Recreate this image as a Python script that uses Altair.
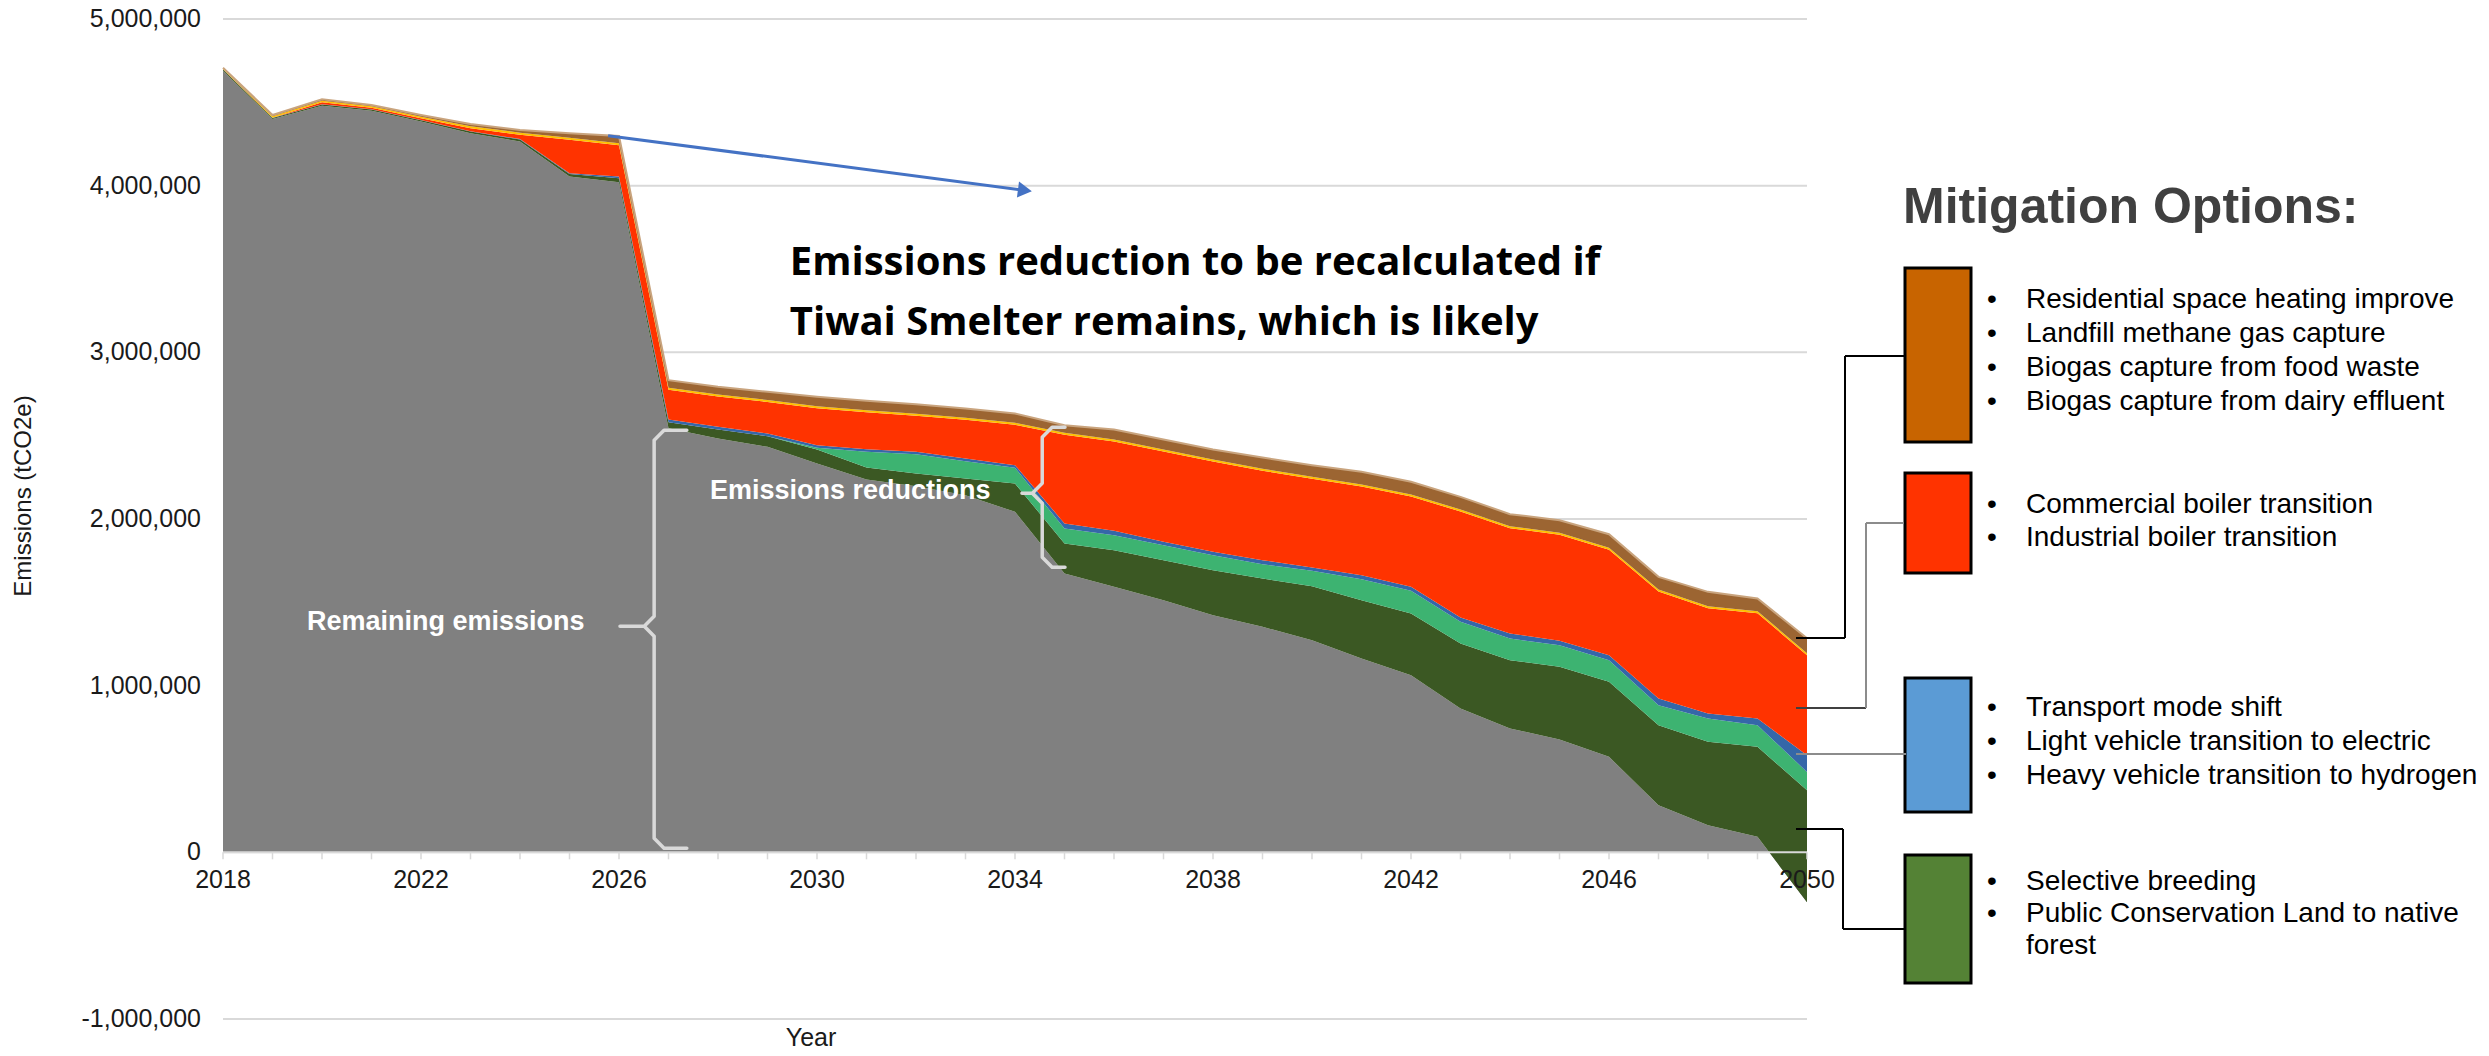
import altair as alt
import numpy as np
import pandas as pd

# ---------------------------------------------------------------- data
years = list(range(2018, 2051))
year_labels = list(range(2018, 2051, 4))
value_ticks = list(range(-1_000_000, 5_000_001, 1_000_000))

remaining = [4690000, 4400000, 4480000, 4450000, 4385000, 4315000, 4265000, 4055000, 4020000,
             2545000, 2483000, 2433000, 2333000, 2237000, 2197000, 2143000, 2043000, 1673000,
             1593000, 1513000, 1423000, 1353000, 1273000, 1163000, 1063000, 863000, 743000,
             677000, 573000, 283000, 163000, 93000, -300000]
land_breeding = [7000, 6000, 7000, 7000, 7000, 10000, 12000, 15000, 25000,
                 35000, 54000, 64000, 84000, 72000, 76000, 100000, 170000, 180000,
                 220000, 240000, 270000, 290000, 324000, 350000, 370000, 390000, 410000,
                 436000, 450000, 480000, 500000, 540000, 672000]
land_other = [0] * 12 + [10000, 94000, 116000, 104000, 94000, 90000, 90000, 90000, 90000,
                         86000, 92000, 126000, 136000, 130000, 130000, 130000, 130000,
                         120000, 140000, 130000, 110000]
transport = [1000, 1000, 1000, 1000, 2000, 2000, 3000, 5000, 10000,
             17000, 16000, 16000, 16000, 16000, 14000, 16000, 16000, 30000,
             26000, 20000, 20000, 24000, 20000, 24000, 24000, 26000, 30000,
             26000, 30000, 40000, 30000, 40000, 100000]
boilers = [0, 1000, 12000, 10000, 10000, 18000, 25000, 200000, 187000,
           178000, 182000, 189000, 222000, 221000, 217000, 232000, 242000, 532000,
           536000, 542000, 542000, 537000, 533000, 532000, 542000, 636000, 632000,
           636000, 632000, 642000, 632000, 632000, 600000]
other_energy = [5000, 8000, 10000, 8000, 10000, 12000, 13000] + [12000] * 26
waste_heating = [5000, 8000, 8000, 8000, 10000, 13000, 16000, 27000, 44000,
                 46000, 46000, 49000, 56000, 57000, 57000, 56000, 56000, 46000,
                 60000, 60000, 60000, 67000, 69000, 76000, 76000, 76000, 72000,
                 76000, 82000, 76000, 86000, 76000, 90000]

series_names = ["Remaining", "Breeding & forest", "Land use", "Transport",
                "Boilers", "Other", "Waste & heating"]
series_values = [remaining, land_breeding, land_other, transport,
                 boilers, other_energy, waste_heating]
series_colors = ["#808080", "#3B5823", "#3DB371", "#3567A8",
                 "#FF3300", "#FFC000", "#9C6532"]

legend_colors = ["#C86400", "#FF3300", "#5B9BD5", "#548235"]
legend_items = [
    ["Residential space heating improve", "Landfill methane gas capture",
     "Biogas capture from food waste", "Biogas capture from dairy effluent"],
    ["Commercial boiler transition", "Industrial boiler transition"],
    ["Transport mode shift", "Light vehicle transition to electric",
     "Heavy vehicle transition to hydrogen"],
    ["Selective breeding", "Public Conservation Land to native", "forest"],
]

# ------------------------------------------------- cumulative (Excel-style) stack
rows = []
base = np.zeros(len(years))
for name, vals in zip(series_names, series_values):
    top = base + np.array(vals, dtype=float)
    for yr, lo, hi in zip(years, base, top):
        rows.append({"year": yr, "series": name, "bottom": lo, "top": hi})
    base = top
stack_df = pd.DataFrame(rows)

# --------------------------------------------------------------- scales
W, H = 1584, 1000
X0, X1 = 2018, 2050
Y0, Y1 = -1_000_000, 5_000_000
FONT = "Liberation Sans, Arial, sans-serif"
INK = "#1a1a1a"
GRID = "#D9D9D9"
xs = alt.Scale(domain=[X0, X1], nice=False, zero=False)
ys = alt.Scale(domain=[Y0, Y1], nice=False, zero=False)


def px_year(px):
    """Horizontal pixel offset from the plot's left edge -> year units."""
    return X0 + px * (X1 - X0) / W


def py_value(py):
    """Vertical pixel offset from the plot's top edge -> tonnes."""
    return Y1 - py * (Y1 - Y0) / H


X = alt.X("year:Q", scale=xs, axis=None)


def Y(field):
    return alt.Y(field, scale=ys, axis=None)


layers = []

# horizontal gridlines (behind the areas)
grid_df = pd.DataFrame({"year": [X0] * len(value_ticks), "year2": [X1] * len(value_ticks),
                        "value": value_ticks})
layers.append(
    alt.Chart(grid_df).mark_rule(color=GRID, strokeWidth=2)
    .encode(x=X, x2="year2:Q", y=Y("value:Q"))
)

# stacked areas
for name, color in zip(series_names, series_colors):
    layers.append(
        alt.Chart(stack_df).transform_filter(alt.datum.series == name)
        .mark_area(color=color, opacity=1, interpolate="linear")
        .encode(x=X, y=Y("top:Q"), y2="bottom:Q")
    )

# light edge along the top of the upper band
layers.append(
    alt.Chart(stack_df).transform_filter(alt.datum.series == "Waste & heating")
    .mark_line(color="#C9A47E", strokeWidth=2)
    .encode(x=X, y=Y("top:Q"))
)

# category axis crossing at zero: line, yearly ticks, labels every 4 years
TICK = 7 * (Y1 - Y0) / H
layers.append(
    alt.Chart(pd.DataFrame({"year": [X0], "year2": [X1], "value": [0]}))
    .mark_rule(color=GRID, strokeWidth=2)
    .encode(x=X, x2="year2:Q", y=Y("value:Q"))
)
layers.append(
    alt.Chart(pd.DataFrame({"year": years, "value": [0] * len(years),
                            "value2": [-TICK] * len(years)}))
    .mark_rule(color=GRID, strokeWidth=1.5)
    .encode(x=X, y=Y("value:Q"), y2="value2:Q")
)
layers.append(
    alt.Chart(pd.DataFrame({"year": year_labels, "value": [0] * len(year_labels),
                            "label": [str(v) for v in year_labels]}))
    .mark_text(font=FONT, fontSize=25, color=INK, align="center", baseline="middle", dy=28)
    .encode(x=X, y=Y("value:Q"), text="label:N")
)
layers.append(
    alt.Chart(pd.DataFrame({"year": [X0] * len(value_ticks), "value": value_ticks,
                            "label": [f"{v:,}" for v in value_ticks]}))
    .mark_text(font=FONT, fontSize=25, color=INK, align="right", baseline="middle", dx=-22)
    .encode(x=X, y=Y("value:Q"), text="label:N")
)
layers.append(
    alt.Chart(pd.DataFrame({"year": [px_year(-199)], "value": [py_value(477)],
                            "label": ["Emissions (tCO2e)"]}))
    .mark_text(font=FONT, fontSize=24, color=INK, align="center", baseline="middle", angle=270)
    .encode(x=X, y=Y("value:Q"), text="label:N")
)
layers.append(
    alt.Chart(pd.DataFrame({"year": [px_year(588)], "value": [py_value(1019)],
                            "label": ["Year"]}))
    .mark_text(font=FONT, fontSize=25, color=INK, align="center", baseline="middle")
    .encode(x=X, y=Y("value:Q"), text="label:N")
)

# ---------------------------------------------------------------- annotations
def data_text(df, **kw):
    return alt.Chart(df).mark_text(**kw).encode(x=X, y=Y("value:Q"), text="label:N")


note_df = pd.DataFrame({
    "year": [2029.45, 2029.45],
    "value": [3_535_000, 3_175_000],
    "label": ["Emissions reduction to be recalculated if",
              "Tiwai Smelter remains, which is likely"],
})
layers.append(data_text(note_df, align="left", baseline="middle", font="Open Sans",
                        fontWeight="bold", fontSize=40, color="#000000"))

inner_df = pd.DataFrame({
    "year": [2022.5, 2030.67],
    "value": [1_381_000, 2_167_000],
    "label": ["Remaining emissions", "Emissions reductions"],
})
layers.append(data_text(inner_df, align="center", baseline="middle", font=FONT,
                        fontWeight="bold", fontSize=27, color="#FFFFFF"))


def brace(xv, xh, xt, ytop, ybot, ymid, rx=0.2, ry=60000, tag=""):
    pts = [(xh, ytop), (xv + rx, ytop), (xv, ytop - ry), (xv, ymid + ry),
           (xv - rx, ymid), (xt, ymid), (xv - rx, ymid), (xv, ymid - ry),
           (xv, ybot + ry), (xv + rx, ybot), (xh, ybot)]
    return pd.DataFrame({"year": [p[0] for p in pts], "value": [p[1] for p in pts],
                         "i": range(len(pts)), "brace": tag})


braces = pd.concat([
    brace(2026.71, 2027.37, 2026.02, 2_533_000, 24_000, 1_357_000, tag="a"),
    brace(2034.55, 2035.01, 2034.14, 2_551_000, 1_711_000, 2_155_000, tag="b"),
])
layers.append(
    alt.Chart(braces).mark_line(color=GRID, strokeWidth=3.5,
                                strokeJoin="round", strokeCap="round")
    .encode(x=X, y=Y("value:Q"), detail="brace:N", order="i:Q")
)

arrow_df = pd.DataFrame({"year": [2025.78, 2034.2], "value": [4_300_000, 3_972_000]})
layers.append(
    alt.Chart(arrow_df).mark_line(color="#4472C4", strokeWidth=3)
    .encode(x=X, y=Y("value:Q"))
)
layers.append(
    alt.Chart(arrow_df.tail(1)).mark_point(shape="triangle-right", filled=True, size=260,
                                           angle=7.5, color="#4472C4", opacity=1)
    .encode(x=X, y=Y("value:Q"))
)

# ------------------------------------------------------- side panel
box_top = [249, 454, 659, 836]
box_bottom = [423, 554, 793, 964]
box_df = pd.DataFrame({
    "year": [px_year(1682)] * 4, "year2": [px_year(1748)] * 4,
    "value": [py_value(v) for v in box_top],
    "value2": [py_value(v) for v in box_bottom],
    "c": legend_colors,
})
layers.append(
    alt.Chart(box_df).mark_rect(stroke="#000000", strokeWidth=3)
    .encode(x=X, x2="year2:Q", y=Y("value:Q"), y2="value2:Q",
            color=alt.Color("c:N", scale=None, legend=None))
)

line_first = [281, 486, 689, 863]
line_step = [34, 33, 34, 32]
txt_rows = []
for items, y0, dy in zip(legend_items, line_first, line_step):
    for k, t in enumerate(items):
        txt_rows.append({"value": py_value(y0 + k * dy), "t": t,
                         "b": "" if t == "forest" else "•"})
txt_df = pd.DataFrame(txt_rows)
layers.append(
    alt.Chart(txt_df).mark_text(align="left", baseline="middle", font=FONT,
                                fontSize=28, color="#000000")
    .encode(x=alt.value(1803), y=Y("value:Q"), text="t:N")
)
layers.append(
    alt.Chart(txt_df).mark_text(align="center", baseline="middle", font=FONT,
                                fontSize=28, color="#000000")
    .encode(x=alt.value(1769), y=Y("value:Q"), text="b:N")
)
layers.append(
    alt.Chart(pd.DataFrame({"t": ["Mitigation Options:"]}))
    .mark_text(align="left", baseline="alphabetic", font=FONT,
               fontWeight="bold", fontSize=50, color="#404040")
    .encode(x=alt.value(1680), y=alt.value(204), text="t:N")
)

# elbow connectors from the 2050 edge to the option boxes
seg_px = [  # x, y, x2, y2, colour
    (1573, 619, 1622, 619, "#000000"), (1622, 619, 1622, 337, "#000000"),
    (1622, 337, 1681, 337, "#000000"),
    (1573, 689, 1643, 689, "#404040"), (1643, 689, 1643, 504, "#8C8C8C"),
    (1643, 504, 1681, 504, "#8C8C8C"),
    (1573, 735, 1683, 735, "#8C8C8C"),
    (1573, 810, 1620, 810, "#000000"), (1620, 810, 1620, 910, "#000000"),
    (1620, 910, 1683, 910, "#000000"),
]
seg_df = pd.DataFrame({
    "year": [px_year(s[0]) for s in seg_px], "value": [py_value(s[1]) for s in seg_px],
    "year2": [px_year(s[2]) for s in seg_px], "value2": [py_value(s[3]) for s in seg_px],
    "c": [s[4] for s in seg_px],
})
layers.append(
    alt.Chart(seg_df).mark_rule(strokeWidth=2)
    .encode(x=X, x2="year2:Q", y=Y("value:Q"), y2="value2:Q",
            color=alt.Color("c:N", scale=None, legend=None))
)

chart = (
    alt.layer(*layers)
    .properties(width=W, height=H,
                autosize=alt.AutoSizeParams(type="none"),
                padding={"left": 223, "top": 19, "right": 682, "bottom": 37},
                background="#FFFFFF")
    .configure_view(stroke=None)
)

chart.save("out.html", embed_options={"renderer": "svg", "actions": False})
